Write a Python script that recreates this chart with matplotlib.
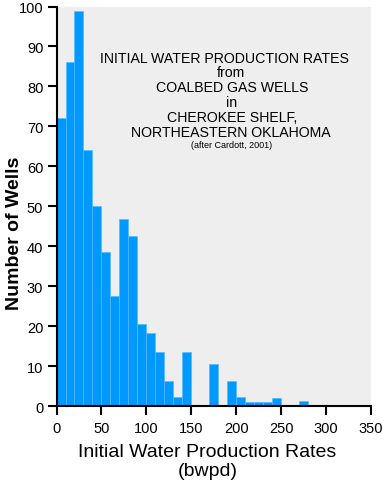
import matplotlib
matplotlib.use("Agg")
import matplotlib.pyplot as plt

# histogram bins (bwpd) and well counts
bin_left = [0, 10, 20, 30, 40, 50, 60, 70, 80, 90, 100, 110, 120, 130, 140,
            150, 160, 170, 180, 190, 200, 210, 220, 230, 240, 250, 260, 270]
counts = [72, 86, 99, 64, 50, 38.5, 27.5, 46.7, 42.6, 20.6, 18.4, 13.5, 6.3, 2.2, 13.5,
          0, 0, 10.4, 0, 6.3, 2.2, 1.1, 1, 1, 2.1, 0, 0, 1.2]

title_lines = ["INITIAL WATER PRODUCTION RATES", "from", "COALBED GAS WELLS",
               "in", "CHEROKEE SHELF,", "NORTHEASTERN OKLAHOMA"]
source_note = "(after Cardott, 2001)"

plt.rcParams['font.family'] = ['Liberation Sans', 'DejaVu Sans']

fig = plt.figure(figsize=(3.85, 4.85), dpi=100)
ax = fig.add_axes([0.1468, 0.1608, 0.8168, 0.8237])
ax.set_facecolor('#eeeeee')

ax.bar(bin_left, counts, width=10, align='edge', color='#0099ff',
       edgecolor='#55bbff', linewidth=0.5, zorder=2)

ax.set_xlim(0, 350)
ax.set_ylim(0, 100)
ax.set_xticks(range(0, 351, 50))
ax.set_yticks(range(0, 101, 10))

for s in ['top', 'right']:
    ax.spines[s].set_visible(False)
for s in ['left', 'bottom']:
    ax.spines[s].set_linewidth(1.5)

ax.tick_params(direction='out', length=6.5, width=1.5, labelsize=10.5)
ax.tick_params(axis='y', pad=3)
ax.tick_params(axis='x', pad=4)

ax.set_ylabel('Number of Wells', fontsize=14, fontweight='bold')
ax.yaxis.set_label_coords(-0.105, 0.435)
fig.text(207.5 / 385, 1 - 462 / 485, 'Initial Water Production Rates\n(bwpd)',
         ha='center', va='center', fontsize=14, linespacing=1.1)

# stacked title inside the plot
line_y = [59, 73, 88, 103, 118, 133]
line_x = [225, 231, 232, 232, 232, 231]
for txt, px, py in zip(title_lines, line_x, line_y):
    fig.text(px / 385, 1 - py / 485, txt, ha='center', va='center', fontsize=10.2)
fig.text(232 / 385, 1 - 146 / 485, source_note, ha='center', va='center', fontsize=6.5)

fig.savefig('out.png', dpi=100)
